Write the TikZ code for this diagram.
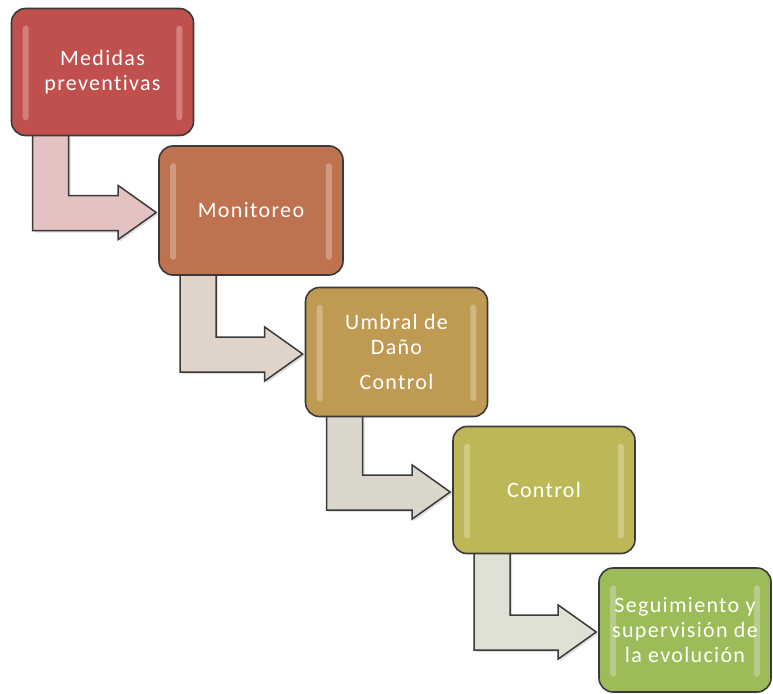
\documentclass[tikz,border=0pt]{standalone}
\usepackage{fontspec}
\newfontfamily\boxfont[LetterSpace=6,Ligatures={NoCommon,NoRare}]{Carlito}
\usetikzlibrary{calc,backgrounds,shadows}

\definecolor{stepA}{HTML}{C0504D}
\definecolor{stepB}{HTML}{BE7250}
\definecolor{stepC}{HTML}{BE9A52}
\definecolor{stepD}{HTML}{BDB857}
\definecolor{stepE}{HTML}{9CBB59}
\definecolor{arrA}{HTML}{E4C2C2}
\definecolor{arrB}{HTML}{E0D3C9}
\definecolor{arrC}{HTML}{DAD6CC}
\definecolor{arrD}{HTML}{DFE1D5}
\definecolor{edge}{HTML}{3A3A3A}

\tikzset{
  stepbox/.style={draw=edge, line width=1.6pt, rounded corners=14pt,
    minimum width=182pt, minimum height=127pt, inner sep=0pt,
    text=white, align=center, font=\boxfont\fontsize{22}{25}\selectfont},
  bentarrow/.style={draw=edge, line width=1.5pt, line join=miter,
    drop shadow={shadow xshift=2pt, shadow yshift=-2pt, opacity=.25, fill=gray}},
  gloss/.style={fill=white, opacity=.28, rounded corners=3pt}
}

% light vertical strips just inside the left and right edges of a box
\newcommand\glossy[1]{%
  \fill[gloss] ($(#1.north west)+(12,18)$) rectangle ($(#1.south west)+(18,-16)$);
  \fill[gloss] ($(#1.north east)+(-18,18)$) rectangle ($(#1.south east)+(-12,-16)$);}

% L-shaped block arrow leaving the bottom of #1 and pointing at the left side of #2
\newcommand\bentlink[3]{%
  \draw[bentarrow, fill=#3] let \p1=(#1.south west), \p2=(#2.west) in
    (\x1+22pt,\y1+10pt) -- (\x1+58pt,\y1+10pt) -- (\x1+58pt,\y2+15pt)
    -- (\x2-40pt,\y2+15pt) -- (\x2-40pt,\y2+25pt) -- (\x2-2pt,\y2-2pt)
    -- (\x2-40pt,\y2-29pt) -- (\x2-40pt,\y2-20pt) -- (\x1+22pt,\y2-20pt) -- cycle;}

\begin{document}
\begin{tikzpicture}[x=1pt,y=-1pt]
  \useasboundingbox (0,0) rectangle (773,693);

  \node[stepbox, fill=stepA] (b1) at (102.5,72)  {Medidas\\preventivas};
  \node[stepbox, fill=stepB, minimum width=184pt, minimum height=129pt] (b2) at (251,210.5) {Monitoreo};
  \node[stepbox, fill=stepC, minimum height=129pt] (b3) at (396.5,352) {Umbral de\\Daño\\[10pt]Control};
  \node[stepbox, fill=stepD] (b4) at (544,490) {Control};
  \node[stepbox, fill=stepE, minimum width=172pt, minimum height=124pt] (b5) at (685,630)
    {Seguimiento y\\supervisión de\\la evolución};

  \foreach \b in {b1,b2,b3,b4,b5} {\glossy{\b}}

  \begin{scope}[on background layer]
    \bentlink{b1}{b2}{arrA}
    \bentlink{b2}{b3}{arrB}
    \bentlink{b3}{b4}{arrC}
    \bentlink{b4}{b5}{arrD}
  \end{scope}
\end{tikzpicture}
\end{document}
